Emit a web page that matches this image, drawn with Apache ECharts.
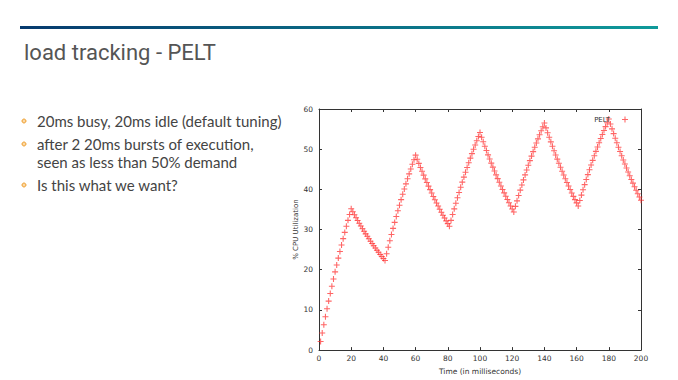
<!DOCTYPE html>
<html>
<head>
<meta charset="utf-8">
<script src="https://cdn.jsdelivr.net/npm/echarts@6/dist/echarts.min.js"></script>
<style>
html,body{margin:0;padding:0;background:#fff;}
#c{width:678px;height:380px;}
</style>
</head>
<body>
<div id="c"></div>
<script>
const slideTitle = 'load tracking - PELT';
const bulletLines = [
  {text: '20ms busy, 20ms idle (default tuning)', bullet: true},
  {text: 'after 2 20ms bursts of execution,', bullet: true},
  {text: 'seen as less than 50% demand', bullet: false},
  {text: 'Is this what we want?', bullet: true}
];
const seriesName = 'PELT';
const xAxisName = 'Time (in milliseconds)';
const yAxisName = '% CPU Utilization';

const timeMs = [
  1,2,3,4,5,6,7,8,9,10,11,12,13,14,15,16,17,18,19,20,
  21,22,23,24,25,26,27,28,29,30,31,32,33,34,35,36,37,38,39,40,
  41,42,43,44,45,46,47,48,49,50,51,52,53,54,55,56,57,58,59,60,
  61,62,63,64,65,66,67,68,69,70,71,72,73,74,75,76,77,78,79,80,
  81,82,83,84,85,86,87,88,89,90,91,92,93,94,95,96,97,98,99,100,
  101,102,103,104,105,106,107,108,109,110,111,112,113,114,115,116,117,118,119,120,
  121,122,123,124,125,126,127,128,129,130,131,132,133,134,135,136,137,138,139,140,
  141,142,143,144,145,146,147,148,149,150,151,152,153,154,155,156,157,158,159,160,
  161,162,163,164,165,166,167,168,169,170,171,172,173,174,175,176,177,178,179,180,
  181,182,183,184,185,186,187,188,189,190,191,192,193,194,195,196,197,198,199,200
];
const peltUtil = [
  2.14,4.24,6.29,8.30,10.27,12.19,14.07,15.91,17.71,19.47,21.20,22.89,24.54,26.16,27.74,29.29,30.81,32.29,33.74,35.16,
  34.41,33.67,32.95,32.24,31.55,30.87,30.21,29.56,28.93,28.31,27.70,27.11,26.53,25.96,25.40,24.86,24.33,23.81,23.30,22.80,22.31,
  23.98,25.61,27.20,28.76,30.29,31.78,33.24,34.67,36.07,37.44,38.78,40.09,41.37,42.63,43.86,45.06,46.24,47.39,48.52,
  47.48,46.46,45.46,44.49,43.54,42.61,41.70,40.81,39.94,39.08,38.24,37.42,36.62,35.84,35.07,34.32,33.58,32.86,32.16,31.47,30.80,
  32.28,33.73,35.15,36.54,37.90,39.23,40.53,41.80,43.05,44.27,45.46,46.63,47.77,48.89,49.99,51.06,52.11,53.14,54.14,
  52.98,51.85,50.74,49.65,48.59,47.55,46.53,45.53,44.55,43.60,42.67,41.75,40.86,39.98,39.13,38.29,37.47,36.67,35.88,35.11,34.36,
  35.77,37.14,38.49,39.81,41.10,42.36,43.60,44.81,45.99,47.15,48.28,49.39,50.47,51.53,52.57,53.59,54.58,55.56,56.51,
  55.30,54.11,52.95,51.82,50.71,49.62,48.56,47.52,46.50,45.50,44.53,43.57,42.64,41.73,40.83,39.96,39.10,38.26,37.44,36.64,35.85,
  37.23,38.57,39.89,41.18,42.44,43.67,44.88,46.06,47.22,48.35,49.46,50.54,51.60,52.64,53.65,54.65,55.62,56.57,57.50,
  56.27,55.06,53.88,52.73,51.60,50.49,49.41,48.35,47.31,46.30,45.31,44.34,43.39,42.46,41.55,40.66,39.79,38.93,38.10,37.28
];

const chart = echarts.init(document.getElementById('c'), null, {renderer: 'svg'});
const plusPath = 'path://M0,3.7H9V5.3H0Z M3.7,0H5.3V9H3.7Z';
const frameColor = '#333';
const tickFont = {fontSize: 7.5, color: '#333', fontFamily: 'DejaVu Sans'};

const bulletGraphics = [];
const lineY = [121, 144, 162, 185];
bulletLines.forEach((b, i) => {
  if (b.bullet) {
    bulletGraphics.push({
      type: 'circle', shape: {cx: 24, cy: lineY[i], r: 2},
      style: {fill: '#fbd9a6', stroke: '#f0a030', lineWidth: 1}
    });
  }
  bulletGraphics.push({
    type: 'text', x: 37, y: lineY[i],
    style: {text: b.text, font: '15px Lato', fill: '#444', textVerticalAlign: 'middle'}
  });
});

function frameAxis(pos, isX) {
  return {
    type: 'value', min: 0, max: isX ? 200 : 60, interval: isX ? 20 : 10, position: pos,
    axisLine: {show: true, onZero: false, lineStyle: {color: frameColor, width: 1}},
    axisTick: {show: true, inside: true, length: 3, lineStyle: {color: frameColor}},
    axisLabel: {show: false}, splitLine: {show: false}
  };
}

chart.setOption({
  animation: false,
  backgroundColor: '#fff',
  title: {
    text: slideTitle, left: 19, top: 36,
    textStyle: {fontFamily: 'Roboto', fontWeight: 'normal', fontSize: 22, color: '#555'}
  },
  graphic: [
    {
      type: 'rect', shape: {x: 20, y: 26, width: 638, height: 3},
      style: {
        fill: new echarts.graphic.LinearGradient(0, 0, 1, 0, [
          {offset: 0, color: '#063a6e'},
          {offset: 1, color: '#0f9a9a'}
        ])
      }
    }
  ].concat(bulletGraphics),
  legend: {
    data: [{name: seriesName, icon: plusPath}],
    right: 45, top: 111, align: 'right',
    itemWidth: 20, itemHeight: 6,
    textStyle: {fontSize: 7, color: '#333', fontFamily: 'DejaVu Sans'}
  },
  grid: {left: 319, right: 37, top: 109, bottom: 21, containLabel: false},
  xAxis: [
    {
      type: 'value', min: 0, max: 200, interval: 20, position: 'bottom',
      name: xAxisName, nameLocation: 'middle', nameGap: 13,
      nameTextStyle: {fontSize: 7.5, color: '#333', fontFamily: 'DejaVu Sans'},
      axisLine: {show: true, onZero: false, lineStyle: {color: frameColor, width: 1}},
      axisTick: {show: true, inside: true, length: 3, lineStyle: {color: frameColor}},
      axisLabel: Object.assign({margin: 4}, tickFont),
      splitLine: {show: false}
    },
    frameAxis('top', true)
  ],
  yAxis: [
    {
      type: 'value', min: 0, max: 60, interval: 10, position: 'left',
      name: yAxisName, nameLocation: 'middle', nameGap: 20, nameRotate: 90,
      nameTextStyle: {fontSize: 7, color: '#333', fontFamily: 'DejaVu Sans'},
      axisLine: {show: true, onZero: false, lineStyle: {color: frameColor, width: 1}},
      axisTick: {show: true, inside: true, length: 3, lineStyle: {color: frameColor}},
      axisLabel: Object.assign({margin: 6}, tickFont),
      splitLine: {show: false}
    },
    frameAxis('right', false)
  ],
  series: [{
    name: seriesName, type: 'scatter',
    symbol: plusPath, symbolSize: 6,
    itemStyle: {color: '#ff2a2a', opacity: 0.72},
    data: timeMs.map((t, i) => [t, peltUtil[i]])
  }]
});
</script>
</body>
</html>
